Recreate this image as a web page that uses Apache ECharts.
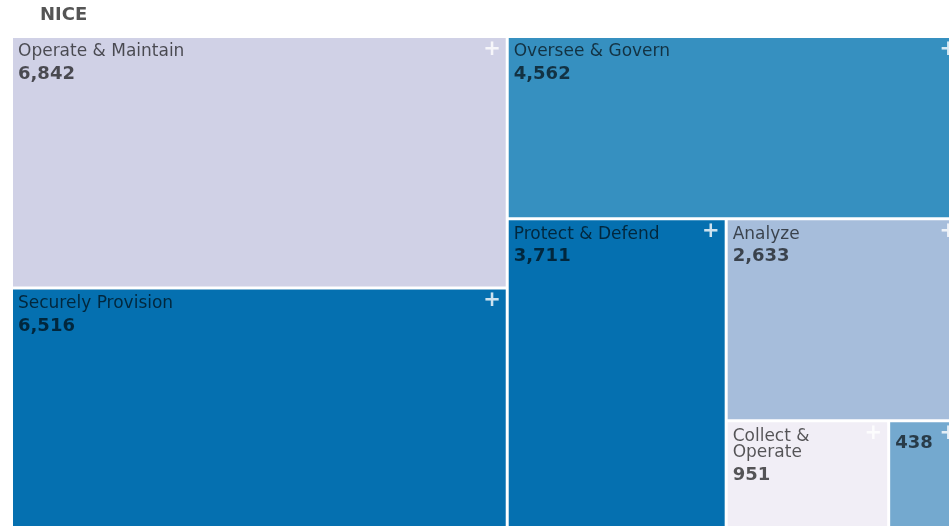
<!DOCTYPE html>
<html>
<head>
<meta charset="utf-8">
<script src="https://cdn.jsdelivr.net/npm/echarts@6/dist/echarts.min.js"></script>
<style>
  html, body { margin: 0; padding: 0; background: #fff; }
  #main { width: 949px; height: 526px; }
</style>
</head>
<body>
<div id="main"></div>
<script>
// NICE workforce categories
const categories = ['Operate & Maintain', 'Securely Provision', 'Oversee & Govern', 'Protect & Defend', 'Analyze', 'Collect & Operate', 'Investigate']
const counts = [6842, 6516, 4562, 3711, 2633, 951, 438]
// tiles too small to show their name
const hideName = ['Investigate']

const tileColors = ['#d0d1e6', '#0570b0', '#3690c0', '#0570b0', '#a6bddb', '#f1eef6', '#74a9cf']

// how the tiles are sliced: each group takes a strip, the rest goes to the next group
const groups = [[0, 1], [2], [3], [4], [5, 6]]

const myChart = echarts.init(document.getElementById('main'))

const fmt = n => n.toLocaleString('en-US')

function leaf(i, withColor) {
  const d = { name: categories[i], value: counts[i] }
  if (withColor) d.itemStyle = { color: tileColors[i] }
  return d
}

function buildTree(gi, withColor) {
  const g = groups[gi]
  const strip = g.length === 1 ? leaf(g[0], withColor) : {
    name: 'g' + gi,
    children: g.map(i => leaf(i, withColor)),
    itemStyle: { color: 'transparent', gapWidth: 3, borderWidth: 0 }
  }
  if (gi === groups.length - 1) return [strip]
  return [strip, {
    name: 'rest' + gi,
    children: buildTree(gi + 1, withColor),
    itemStyle: { color: 'transparent', gapWidth: 3, borderWidth: 0 }
  }]
}

const box = { left: 13, top: 38, width: 949, height: 488 }
const common = {
  type: 'treemap',
  ...box,
  roam: false,
  nodeClick: false,
  squareRatio: 1.06,
  sort: false,
  breadcrumb: { show: false },
  upperLabel: { show: false }
}

const option = {
  title: {
    text: 'NICE',
    left: 35,
    top: 1,
    textStyle: { fontFamily: 'DejaVu Sans', fontSize: 18, fontWeight: 'bold', color: '#555' }
  },
  series: [
    {
      ...common,
      data: buildTree(0, true),
      itemStyle: { borderWidth: 0, gapWidth: 3, borderColor: '#fff' },
      label: {
        show: true,
        position: 'insideTopLeft',
        padding: [6, 5, 3, 5],
        overflow: 'break',
        formatter: p => hideName.includes(p.name)
          ? '{v|' + fmt(p.value) + '}'
          : '{n|' + p.name + '}{v|\n' + fmt(p.value) + '}',
        rich: {
          n: { fontFamily: 'DejaVu Sans', fontSize: 17, lineHeight: 16, color: 'rgba(0,0,0,0.65)' },
          v: { fontFamily: 'DejaVu Sans', fontSize: 18, fontWeight: 'bold', lineHeight: 29, color: 'rgba(0,0,0,0.65)' }
        }
      }
    },
    {
      // "+" markers in each tile's corner
      ...common,
      silent: true,
      data: buildTree(0, false),
      itemStyle: { color: 'transparent', borderWidth: 0, gapWidth: 3 },
      label: {
        show: true,
        position: 'insideTopRight',
        padding: [1, 5, 0, 0],
        formatter: '+',
        fontFamily: 'DejaVu Sans',
        fontSize: 21,
        fontWeight: 'bold',
        color: 'rgba(255,255,255,0.8)'
      }
    }
  ]
}

myChart.setOption(option)
</script>
</body>
</html>
